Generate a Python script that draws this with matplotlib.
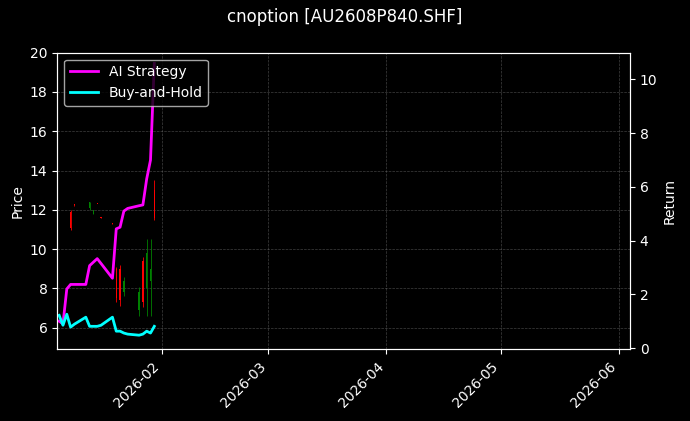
import matplotlib
matplotlib.use("Agg")
import matplotlib.pyplot as plt
import matplotlib.dates as mdates
import numpy as np
import pandas as pd

dates = pd.to_datetime([
    "2026-01-05", "2026-01-06", "2026-01-07", "2026-01-08", "2026-01-09",
    "2026-01-12", "2026-01-13", "2026-01-14", "2026-01-15", "2026-01-16",
    "2026-01-19", "2026-01-20", "2026-01-21", "2026-01-22", "2026-01-23",
    "2026-01-26", "2026-01-27", "2026-01-28", "2026-01-29", "2026-01-30"])

ai_ret = [1.0, 0.9, 2.2, 2.37, 2.37, 2.37, 3.07, 3.2, 3.33, 3.15,
          2.6, 4.44, 4.5, 5.1, 5.2, 5.3, 5.33, 6.3, 7.0, 10.6]
bh_ret = [1.22, 0.85, 1.26, 0.78, 0.89, 1.15, 0.81, 0.81, 0.81, 0.85,
          1.15, 0.63, 0.63, 0.56, 0.52, 0.48, 0.52, 0.63, 0.56, 0.81]

# candles: date, open, high, low, close
c_dates = pd.to_datetime([
    "2026-01-08", "2026-01-09", "2026-01-13", "2026-01-14", "2026-01-15",
    "2026-01-16", "2026-01-19", "2026-01-20", "2026-01-21", "2026-01-22",
    "2026-01-26", "2026-01-27", "2026-01-28", "2026-01-29", "2026-01-30"])
c_open = [11.1, 12.25, 12.4, 12.0, 12.3, 11.6, 11.3, 7.5, 7.4, 8.4, 7.8, 7.3, 9.8, 9.0, 11.6]
c_high = [12.0, 12.3, 12.4, 12.0, 12.32, 11.62, 11.32, 9.1, 9.2, 8.6, 8.1, 9.6, 10.5, 10.5, 13.5]
c_low = [11.0, 12.2, 12.0, 11.8, 12.28, 11.58, 11.28, 7.3, 7.1, 7.6, 6.6, 7.05, 6.6, 6.6, 11.5]
c_close = [11.9, 12.3, 12.1, 11.8, 12.32, 11.62, 11.32, 9.0, 9.0, 7.8, 6.9, 9.4, 8.0, 8.4, 13.0]

plt.style.use("dark_background")
fig, ax = plt.subplots(figsize=(6.9, 4.21), dpi=100)
fig.subplots_adjust(left=0.083, right=0.913, top=0.875, bottom=0.17)

for d, o, h, l, c in zip(c_dates, c_open, c_high, c_low, c_close):
    col = "red" if c >= o else "green"
    ax.vlines(d, l, h, color=col, linewidth=0.6)
    ax.bar(d, max(abs(c - o), 0.05), bottom=min(o, c), width=0.35, color=col)

ax.set_ylim(4.9, 20)
ax.set_ylabel("Price")
ax.set_xlim(pd.Timestamp("2026-01-04 12:00"), pd.Timestamp("2026-06-04"))
ax.xaxis.set_major_locator(mdates.MonthLocator())
ax.xaxis.set_major_formatter(mdates.DateFormatter("%Y-%m"))
plt.setp(ax.get_xticklabels(), rotation=45, ha="right")
ax.grid(True, linestyle="--", linewidth=0.5, color="gray", alpha=0.5)

ax2 = ax.twinx()
ax2.plot(dates, ai_ret, color="magenta", linewidth=2, label="AI Strategy")
ax2.plot(dates, bh_ret, color="cyan", linewidth=2, label="Buy-and-Hold")
ax2.set_ylim(-0.05, 11)
ax2.set_ylabel("Return")
ax2.legend(loc="upper left")

fig.suptitle("cnoption [AU2608P840.SHF]")
fig.savefig("out.png")
